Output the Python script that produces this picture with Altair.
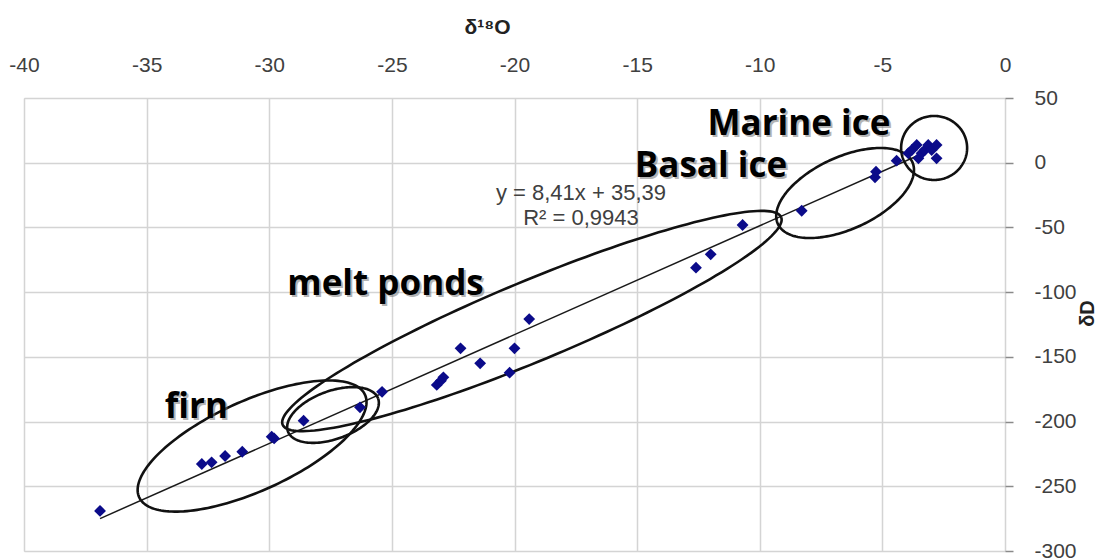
import altair as alt
import numpy as np
import pandas as pd

# Isotope measurements: δ18O (‰) and δD (‰)
d18o = [-36.9, -32.75, -32.35, -31.8, -31.1, -29.9, -29.8, -28.6, -26.3, -25.4,
        -23.17, -23.0, -22.9, -22.2, -21.4, -20.2, -20.0, -19.4,
        -12.6, -12.0, -10.7, -8.29, -5.3, -5.26, -4.42,
        -3.94, -3.8, -3.6, -3.53, -3.4, -3.27, -3.13, -2.99, -2.79, -2.79]
dD = [-269.0, -232.8, -231.5, -226.6, -223.3, -211.7, -213.0, -199.3, -189.0, -177.0,
      -171.7, -168.4, -165.8, -143.4, -155.0, -162.2, -143.4, -120.8,
      -81.1, -70.8, -48.1, -37.1, -11.3, -6.9, 1.6,
      7.3, 9.8, 13.7, 3.4, 7.3, 9.8, 13.7, 9.8, 13.7, 3.4]

# Linear fit reported on the chart
slope = 8.41
intercept = 35.39
eq_lines = ["y = 8,41x + 35,39", "R² = 0,9943"]

x_ticks = list(range(-40, 1, 5))
y_ticks = list(range(-300, 51, 50))
X_DOMAIN = [-40, 0]
Y_DOMAIN = [-300, 50]
W, H = 981, 453

# Group outlines: centre (δ18O, δD), semi-axes in pixels, tilt in degrees
groups = ["firn", "firn/melt", "melt ponds", "Basal ice", "Marine ice"]
ell_cx = [-30.70, -27.40, -19.29, -6.52, -2.89]
ell_cy = [-218.9, -194.9, -122.3, -23.4, 11.4]
ell_a = [124, 48, 270, 74, 33]
ell_b = [45, 24, 40, 36, 32]
ell_rot = [24.4, 20.0, 22.6, 24.7, 0.0]

# Group captions
cap_text = ["Marine ice", "Basal ice", "melt ponds", "firn"]
cap_x = [-8.40, -11.99, -25.26, -32.97]
cap_y = [21.4, -11.0, -102.2, -197.2]

px_x = W / (X_DOMAIN[1] - X_DOMAIN[0])
px_y = H / (Y_DOMAIN[1] - Y_DOMAIN[0])

pts = pd.DataFrame({"x": d18o, "y": dD})

fit = pd.DataFrame({"x": [min(d18o), max(d18o)]})
fit["y"] = slope * fit["x"] + intercept

rows = []
t = np.linspace(0, 2 * np.pi, 181)
for i, g in enumerate(groups):
    th = np.radians(ell_rot[i])
    sx = ell_a[i] * np.cos(t) * np.cos(th) - ell_b[i] * np.sin(t) * np.sin(th)
    sy = ell_a[i] * np.cos(t) * np.sin(th) + ell_b[i] * np.sin(t) * np.cos(th)
    for k in range(len(t)):
        rows.append({"g": g, "k": k,
                     "x": ell_cx[i] + sx[k] / px_x,
                     "y": ell_cy[i] + sy[k] / px_y})
ell = pd.DataFrame(rows)

caps = pd.DataFrame({"x": cap_x, "y": cap_y, "label": cap_text})
eq = pd.DataFrame({"x": [-17.29, -17.29], "y": [-23.4, -42.7], "label": eq_lines})

FONT = "Liberation Sans"
CAP_FONT = "Open Sans"
plain_label = "'' + datum.value"


def xenc():
    return alt.X("x:Q", scale=alt.Scale(domain=X_DOMAIN, nice=False, zero=False),
                 axis=alt.Axis(orient="top", values=x_ticks, title="δ¹⁸O",
                               labelExpr=plain_label,
                               ticks=False, tickSize=0, domain=False,
                               grid=True, gridColor="#d4d4d4", gridWidth=1.5,
                               labelFont=FONT, labelFontSize=21, labelColor="#404040",
                               labelPadding=33, labelBaseline="middle",
                               labelFlush=False, labelOverlap=False, labelBound=False,
                               titleFont=FONT, titleFontSize=21, titleFontWeight="bold",
                               titleColor="#222222", titleX=463, titleY=-71,
                               titleAlign="center", titleBaseline="middle"))


def yenc():
    return alt.Y("y:Q", scale=alt.Scale(domain=Y_DOMAIN, nice=False, zero=False),
                 axis=alt.Axis(orient="right", values=y_ticks, title="δD",
                               labelExpr=plain_label,
                               tickSize=8, tickColor="#8a8a8a", tickWidth=1.5,
                               domain=False, grid=True, gridColor="#d4d4d4", gridWidth=1.5,
                               labelFont=FONT, labelFontSize=21, labelColor="#404040",
                               labelPadding=21, labelAlign="left", labelBaseline="middle",
                               labelFlush=False, labelOverlap=False, labelBound=False,
                               titleFont=FONT, titleFontSize=20, titleFontWeight="bold",
                               titleColor="#222222", titleX=82, titleY=215,
                               titleAngle=270, titleAlign="center",
                               titleBaseline="middle"))


trend = alt.Chart(fit).mark_line(color="#1a1a1a", strokeWidth=1.5).encode(x=xenc(), y=yenc())

outlines = alt.Chart(ell).mark_line(color="#111111", strokeWidth=2.6).encode(
    x=xenc(), y=yenc(), detail="g:N", order="k:Q")

dots = alt.Chart(pts).mark_point(shape="diamond", filled=True, size=140,
                                 color="#0b0b8a", opacity=1).encode(x=xenc(), y=yenc())

shadow = alt.Chart(caps).mark_text(font=CAP_FONT, fontSize=35, fontWeight="bold",
                                   color="#777777", opacity=0.55, dx=2, dy=2,
                                   baseline="alphabetic", align="center").encode(
    x=xenc(), y=yenc(), text="label:N")

captions = alt.Chart(caps).mark_text(font=CAP_FONT, fontSize=35, fontWeight="bold",
                                     color="#000000", baseline="alphabetic",
                                     align="center").encode(
    x=xenc(), y=yenc(), text="label:N")

equation = alt.Chart(eq).mark_text(font=FONT, fontSize=22, color="#404040",
                                   baseline="middle", align="center").encode(
    x=xenc(), y=yenc(), text="label:N")

chart = alt.layer(trend, outlines, dots, equation, shadow, captions).properties(
    width=W, height=H,
    autosize=alt.AutoSizeParams(type="none"),
    padding={"left": 24, "top": 98, "right": 95, "bottom": 8},
).configure_view(stroke="#8a8a8a", strokeWidth=2).configure(background="white")

chart.save("out.html", embed_options={"renderer": "svg", "actions": False})
